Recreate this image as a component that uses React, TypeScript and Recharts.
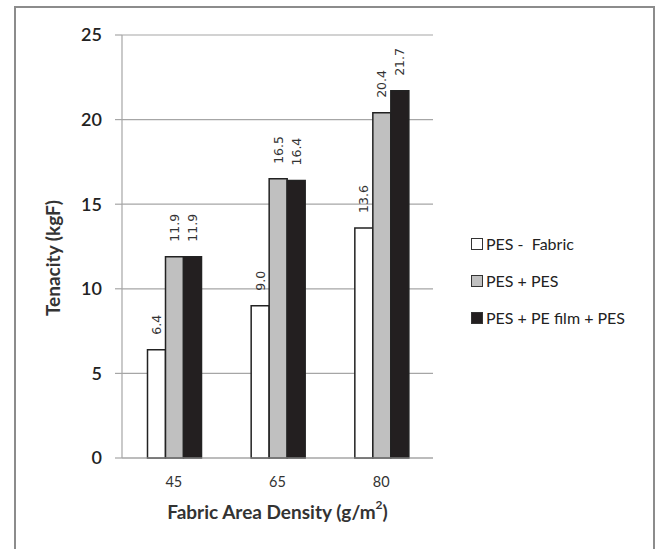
import React from 'react';
import { BarChart, Bar, XAxis, YAxis, CartesianGrid, Legend, LabelList, Label } from 'recharts';

const categories = ['45', '65', '80'];
const pesFabric = [6.4, 9.0, 13.6];
const pesPes = [11.9, 16.5, 20.4];
const pesFilmPes = [11.9, 16.4, 21.7];
const yTicks = [0, 5, 10, 15, 20, 25];
const seriesNames = ['PES -  Fabric', 'PES + PES', 'PES + PE film + PES'];
const seriesColors = ['#ffffff', '#c0c0c0', '#231f20'];

const data = categories.map((c, i) => ({
  cat: c,
  a: pesFabric[i],
  b: pesPes[i],
  c: pesFilmPes[i],
}));

const FONT = 'Lato, "Open Sans", sans-serif';

const renderBarLabel = (props: any) => {
  const { x, y, width, value } = props;
  const cx = Number(x) + Number(width) / 2;
  const ty = Number(y) - 15;
  return (
    <text
      x={cx}
      y={ty}
      transform={`rotate(-90, ${cx}, ${ty})`}
      textAnchor="start"
      dominantBaseline="central"
      fontFamily='"DejaVu Sans", sans-serif'
      fontSize={12.5}
      fill="#333"
    >
      {Number(value).toFixed(1)}
    </text>
  );
};

const renderLegend = () => (
  <div style={{ fontFamily: FONT, fontSize: 16, color: '#222' }}>
    {seriesNames.map((n, i) => (
      <div key={n} style={{ display: 'flex', alignItems: 'center', height: 37 }}>
        <span
          style={{
            display: 'inline-block',
            width: 12,
            height: 12,
            boxSizing: 'border-box',
            border: '1.5px solid #333',
            background: seriesColors[i],
            marginRight: 3,
          }}
        />
        <span style={{ whiteSpace: 'pre' }}>{n}</span>
      </div>
    ))}
  </div>
);

export default function App() {
  return (
    <div
      style={{
        position: 'fixed',
        left: 0,
        top: 0,
        width: 656,
        height: 549,
        overflow: 'hidden',
        background: '#fff',
      }}
    >
      <div
        style={{
          position: 'absolute',
          left: 14,
          top: 6,
          width: 641,
          height: 600,
          border: '2.5px solid #8c8c8c',
          boxSizing: 'border-box',
        }}
      />
      <div style={{ position: 'absolute', left: 0, top: 0 }}>
        <BarChart
          width={656}
          height={549}
          data={data}
          margin={{ top: 35, right: 223, bottom: 61, left: 0 }}
          barCategoryGap="24.6%"
          barGap={0}
        >
          <CartesianGrid vertical={false} stroke="#a6a6a6" strokeWidth={1.2} />
          <XAxis
            dataKey="cat"
            height={30}
            tickSize={0}
            tickMargin={19}
            axisLine={{ stroke: '#a6a6a6', strokeWidth: 1.2 }}
            tick={{ fontFamily: FONT, fontSize: 14.5, fill: '#333' }}
          >
            <Label
              content={() => (
                <text
                  x={277.5}
                  y={511}
                  textAnchor="middle"
                  dominantBaseline="central"
                  fontFamily={FONT}
                  fontWeight="bold"
                  fontSize={19}
                  fill="#333"
                >
                  Fabric Area Density (g/m
                  <tspan dy={-7} fontSize={12}>2</tspan>
                  <tspan dy={7}>)</tspan>
                </text>
              )}
            />
          </XAxis>
          <YAxis
            width={122}
            domain={[0, 25]}
            ticks={yTicks}
            interval={0}
            tickSize={7}
            tickMargin={13}
            axisLine={{ stroke: '#a6a6a6', strokeWidth: 1.2 }}
            tickLine={{ stroke: '#a6a6a6', strokeWidth: 1.2 }}
            tick={{ fontFamily: FONT, fontSize: 18, fill: '#222', fontWeight: 600 }}
          >
            <Label
              content={() => (
                <text
                  x={52}
                  y={258}
                  transform="rotate(-90, 52, 258)"
                  textAnchor="middle"
                  dominantBaseline="central"
                  fontFamily={FONT}
                  fontWeight="bold"
                  fontSize={19}
                  fill="#333"
                >
                  Tenacity (kgF)
                </text>
              )}
            />
          </YAxis>
          <Legend
            layout="vertical"
            align="center"
            verticalAlign="middle"
            content={renderLegend}
            wrapperStyle={{ position: 'absolute', left: 471, top: 225, width: 180 }}
          />
          <Bar dataKey="a" name={seriesNames[0]} fill={seriesColors[0]} stroke="#222" strokeWidth={1.5} isAnimationActive={false}>
            <LabelList dataKey="a" content={renderBarLabel} />
          </Bar>
          <Bar dataKey="b" name={seriesNames[1]} fill={seriesColors[1]} stroke="#222" strokeWidth={1.5} isAnimationActive={false}>
            <LabelList dataKey="b" content={renderBarLabel} />
          </Bar>
          <Bar dataKey="c" name={seriesNames[2]} fill={seriesColors[2]} stroke="#222" strokeWidth={1.5} isAnimationActive={false}>
            <LabelList dataKey="c" content={renderBarLabel} />
          </Bar>
        </BarChart>
      </div>
    </div>
  );
}
